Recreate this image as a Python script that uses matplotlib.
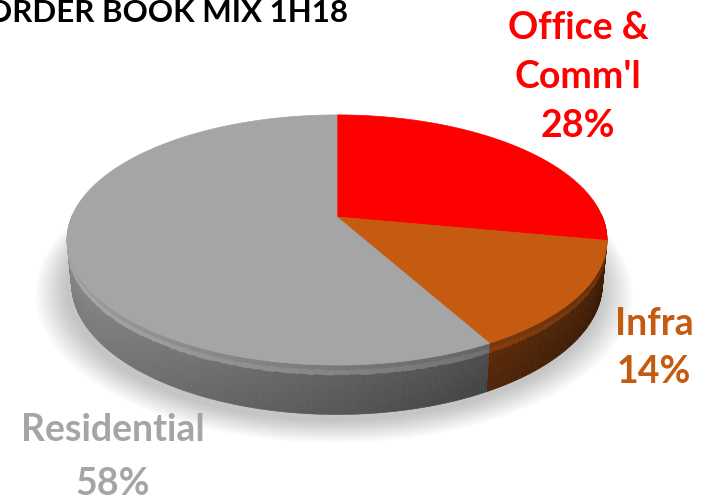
import numpy as np
import matplotlib
matplotlib.use('Agg')
import matplotlib.pyplot as plt
from matplotlib.collections import PolyCollection
from matplotlib.patches import Polygon
from matplotlib.colors import to_rgb

# ---- data ----
title = "ORDER BOOK MIX 1H18"
categories = ["Office &\nComm'l", "Infra", "Residential"]
shares = [28, 14, 58]
colors = ['#FF0000', '#C55A11', '#A5A5A5']
label_colors = ['#FF0000', '#C55A11', '#A5A5A5']

FONT = ['Lato', 'DejaVu Sans']

fig = plt.figure(figsize=(7.04, 5), dpi=100)
ax = fig.add_axes([0, 0, 1, 1])
ax.set_xlim(0, 704)
ax.set_ylim(500, 0)
ax.axis('off')

# ---- perspective projection of a unit disc ----
CX, CY = 337, 217
F = 1319.0
FX = F * 0.98
D = 4.87
E = np.radians(26.5)
H = 0.18
sE, cE = np.sin(E), np.cos(E)


def proj(phi, z=0.0, r=1.0):
    x = r * np.cos(phi)
    y = r * np.sin(phi)
    depth = D + y * cE - z * sE
    px = CX + FX * x / depth
    py = CY - F * (y * sE + z * cE) / depth
    return px, py


total = float(sum(shares))
bounds = [90.0]
for s in shares:
    bounds.append(bounds[-1] - 360.0 * s / total)

# soft shadow under the pie
for k in range(10):
    r = 1.0 + 0.012 * (k + 1)
    ph = np.linspace(0, 2 * np.pi, 200)
    px, py = proj(ph, -H - 0.01, r)
    ax.add_patch(Polygon(np.column_stack([px - 3, py + 2]), closed=True,
                         facecolor='#000000', edgecolor='none', alpha=0.025, zorder=1))

# ---- side walls ----
quads, qcols, qdepth = [], [], []
nz = 10
for i, col in enumerate(colors):
    a0, a1 = np.radians(bounds[i]), np.radians(bounds[i + 1])
    base = np.array(to_rgb(col))
    n = max(int(abs(bounds[i] - bounds[i + 1]) * 1.5), 4)
    ph = np.linspace(a0, a1, n + 1)
    for j in range(n):
        p0, p1 = ph[j], ph[j + 1]
        pm = 0.5 * (p0 + p1)
        if np.sin(pm) >= 0.02:
            continue
        for k in range(nz):
            z0 = -H * k / nz
            z1 = -H * (k + 1) / nz
            xa, ya = proj(p0, z0)
            xb, yb = proj(p1, z0)
            xc, yc = proj(p1, z1)
            xd, yd = proj(p0, z1)
            quads.append([(xa, ya), (xb, yb), (xc, yc), (xd, yd)])
            t = (k + 0.5) / nz
            fac = 0.60 + 0.25 * (-np.cos(pm))
            if t < 0.25:
                fac += 0.22 * np.sin(np.pi * t / 0.25)
            fac -= 0.08 * t
            c = np.clip(base * fac, 0, 1)
            qcols.append(c)
            qdepth.append(np.sin(pm))

order = np.argsort(-np.array(qdepth))
pc = PolyCollection([quads[o] for o in order], facecolors=[qcols[o] for o in order],
                    edgecolors=[qcols[o] for o in order], linewidths=0.4, zorder=2)
ax.add_collection(pc)

# ---- top faces ----
for i, col in enumerate(colors):
    a0, a1 = np.radians(bounds[i]), np.radians(bounds[i + 1])
    n = max(int(abs(bounds[i] - bounds[i + 1]) * 2), 10)
    ph = np.linspace(a0, a1, n)
    px, py = proj(ph, 0.0)
    pts = np.vstack([[CX, CY], np.column_stack([px, py])])
    ax.add_patch(Polygon(pts, closed=True, facecolor=col, edgecolor=col,
                         linewidth=0.5, zorder=3))

# ---- labels ----
label_pos = [(578, 77), (654, 348), (113, 457)]
label_ls = [1.52, 1.5, 1.7]
for i, cat in enumerate(categories):
    ax.text(label_pos[i][0], label_pos[i][1], f"{cat}\n{shares[i]}%",
            ha='center', va='center', fontsize=27, fontweight='bold',
            color=label_colors[i], family=FONT, linespacing=label_ls[i], zorder=5)

ax.text(348, 13, title, ha='right', va='center', fontsize=22.5,
        fontweight='bold', color='black', family=FONT, zorder=5)

fig.savefig('out.png', dpi=100, facecolor='white')
